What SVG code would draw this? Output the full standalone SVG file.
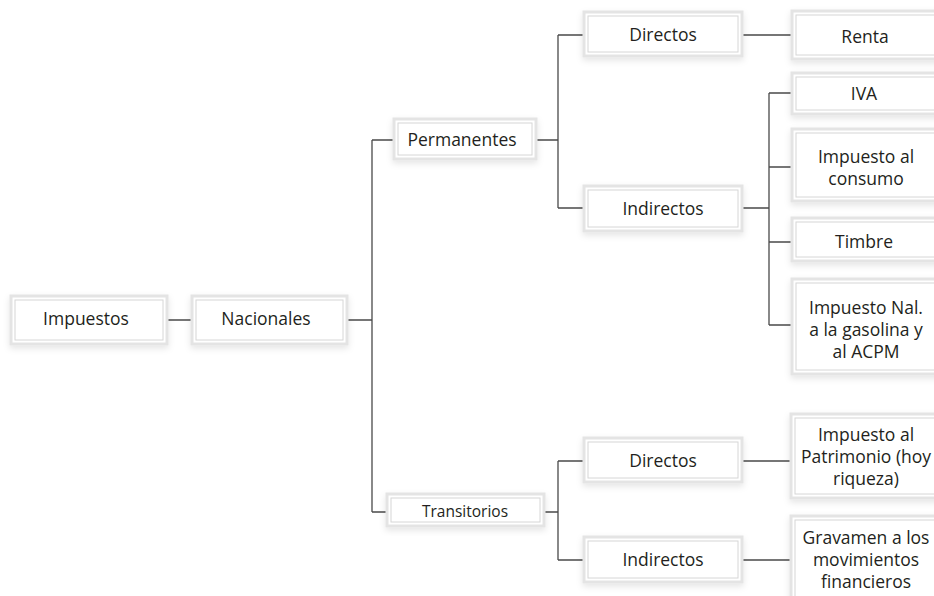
<svg xmlns="http://www.w3.org/2000/svg" width="934" height="596" viewBox="0 0 934 596">
<defs>
<filter id="sh" x="-10%" y="-20%" width="120%" height="150%">
<feDropShadow dx="0" dy="3" stdDeviation="3" flood-color="#000" flood-opacity="0.1"/>
</filter>
</defs>
<style>
.o{fill:#fff;stroke:#e4e4e4;stroke-width:3;filter:url(#sh)}
.i{fill:#fff;stroke:#d6d6d6;stroke-width:1}
.t{font-family:"Open Sans","Liberation Sans",sans-serif;font-size:17.5px;fill:#231f20;text-anchor:middle;dominant-baseline:central}
.c{stroke:#4a4a4a;stroke-width:1.3;fill:none}
</style>
<rect width="934" height="596" fill="#fff"/>
<g id="connectors">
<path class="c" d="M168 320H191M348 320H372M372 140V512M372 140H393M372 512H386M537 140H558M558 35V208M558 35H583M558 208H583M743 35H791M743 208H769M769 93V325M769 93H791M769 167H791M769 242H791M769 325H791M545 512H558M558 461V560M558 461H583M558 560H583M743 461H790M743 560H790"/>
</g>
<g id="impuestos"><rect class="o" x="11" y="296" width="156" height="48"/><rect class="i" x="15" y="300" width="148" height="40"/><text class="t" x="86" y="318">Impuestos</text></g>
<g id="nacionales"><rect class="o" x="192" y="296" width="155" height="48"/><rect class="i" x="196" y="300" width="147" height="40"/><text class="t" x="266" y="318">Nacionales</text></g>
<g id="permanentes"><rect class="o" x="394" y="119" width="142" height="40"/><rect class="i" x="398" y="123" width="134" height="32"/><text class="t" x="462" y="139">Permanentes</text></g>
<g id="directos1"><rect class="o" x="584" y="12" width="158" height="44"/><rect class="i" x="588" y="16" width="150" height="36"/><text class="t" x="663" y="34">Directos</text></g>
<g id="renta"><rect class="o" x="792" y="11" width="150" height="48"/><rect class="i" x="796" y="15" width="142" height="40"/><text class="t" x="865" y="36">Renta</text></g>
<g id="indirectos1"><rect class="o" x="584" y="186" width="158" height="45"/><rect class="i" x="588" y="190" width="150" height="37"/><text class="t" x="663" y="208">Indirectos</text></g>
<g id="iva"><rect class="o" x="792" y="73" width="150" height="41"/><rect class="i" x="796" y="77" width="142" height="33"/><text class="t" x="864" y="93">IVA</text></g>
<g id="consumo"><rect class="o" x="792" y="129" width="150" height="72"/><rect class="i" x="796" y="133" width="142" height="64"/><text class="t" x="866" y="156">Impuesto al</text><text class="t" x="866" y="178">consumo</text></g>
<g id="timbre"><rect class="o" x="792" y="218" width="150" height="43"/><rect class="i" x="796" y="222" width="142" height="35"/><text class="t" x="864" y="241">Timbre</text></g>
<g id="gasolina"><rect class="o" x="792" y="279" width="150" height="95"/><rect class="i" x="796" y="283" width="142" height="87"/><text class="t" x="866" y="307">Impuesto Nal.</text><text class="t" x="866" y="329">a la gasolina y</text><text class="t" x="866" y="351">al ACPM</text></g>
<g id="transitorios"><rect class="o" x="387" y="494" width="157" height="32"/><rect class="i" x="391" y="498" width="149" height="24"/><text class="t" x="465" y="511" style="font-size:15.5px">Transitorios</text></g>
<g id="directos2"><rect class="o" x="584" y="438" width="158" height="44"/><rect class="i" x="588" y="442" width="150" height="36"/><text class="t" x="663" y="460">Directos</text></g>
<g id="indirectos2"><rect class="o" x="584" y="537" width="158" height="45"/><rect class="i" x="588" y="541" width="150" height="37"/><text class="t" x="663" y="559">Indirectos</text></g>
<g id="patrimonio"><rect class="o" x="791" y="414" width="150" height="84"/><rect class="i" x="795" y="418" width="142" height="76"/><text class="t" x="866" y="434">Impuesto al</text><text class="t" x="866" y="456">Patrimonio (hoy</text><text class="t" x="866" y="478">riqueza)</text></g>
<g id="gravamen"><rect class="o" x="791" y="516" width="150" height="90"/><rect class="i" x="795" y="520" width="142" height="82"/><text class="t" x="866" y="537">Gravamen a los</text><text class="t" x="866" y="559">movimientos</text><text class="t" x="866" y="581">financieros</text></g>
</svg>
